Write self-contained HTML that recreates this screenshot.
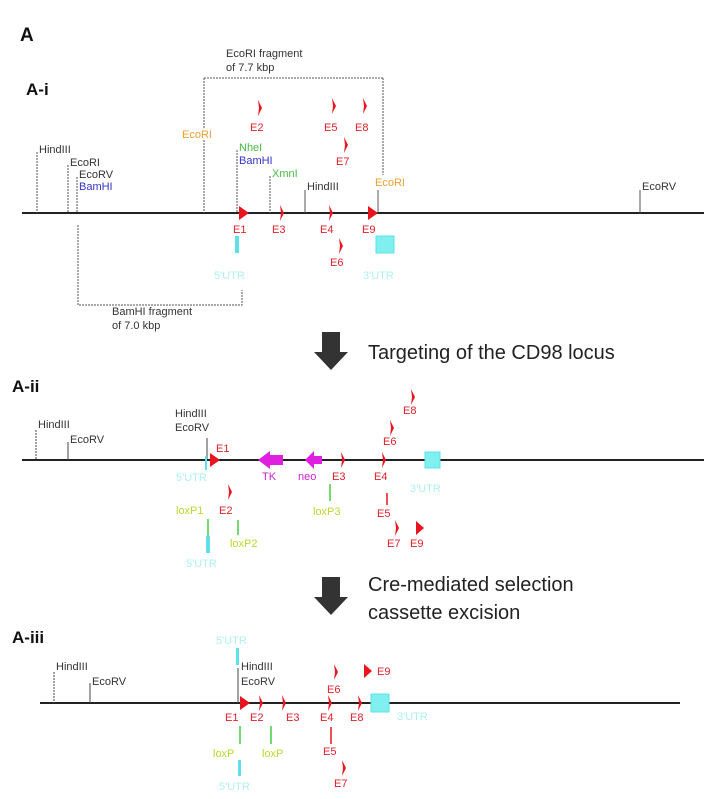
<!DOCTYPE html>
<html><head><meta charset="utf-8"><style>
html,body{margin:0;padding:0;background:#fff}
svg{display:block}
text{font-family:"Liberation Sans",Arial,sans-serif;font-size:11px}
.k{fill:#333}.r{fill:#e0202a}.o{fill:#e8a030}.g{fill:#44bb44}.b{fill:#3333cc}.c{fill:#aef0f0}.y{fill:#b8d830}.m{fill:#cc22cc}
.big{font-size:20px;fill:#222}
.hd{font-size:17px;font-weight:bold;fill:#111}
</style></head><body>
<svg width="704" height="799" viewBox="0 0 704 799" xmlns="http://www.w3.org/2000/svg">
<defs>
<g id="tri"><path d="M0,-7 L10,0 L0,7 Z" fill="#e8141e"/></g>
<g id="sm"><path d="M0,-8 L4,0 L0,8 L1,0 Z" fill="#e8141e"/></g>
</defs>
<text x="20" y="41" class="hd" style="font-size:19px">A</text>
<text x="26" y="95" class="hd">A-i</text>
<!-- A-i -->
<line x1="22" y1="213" x2="704" y2="213" stroke="#222" stroke-width="2"/>
<g stroke="#555" stroke-width="1">
<line x1="37" y1="152" x2="37" y2="213" stroke-dasharray="2,1"/>
<line x1="68" y1="165" x2="68" y2="213" stroke-dasharray="2,1"/>
<line x1="77" y1="177" x2="77" y2="213" stroke-dasharray="2,1"/>
<line x1="204" y1="140" x2="204" y2="213" stroke-dasharray="2,1"/>
<line x1="204" y1="78" x2="383" y2="78" stroke-dasharray="2,1"/>
<line x1="204" y1="78" x2="204" y2="128" stroke-dasharray="2,1"/>
<line x1="383" y1="78" x2="383" y2="175" stroke-dasharray="2,1"/>
<line x1="378" y1="190" x2="378" y2="213"/>
<line x1="237" y1="150" x2="237" y2="213" stroke-dasharray="2,1"/>
<line x1="270" y1="176" x2="270" y2="213" stroke-dasharray="2,1"/>
<line x1="305" y1="190" x2="305" y2="213"/>
<line x1="640" y1="190" x2="640" y2="213"/>
<path d="M640,190 L640,213" />
<path d="M78,225 L78,305 L242,305 L242,290" fill="none" stroke-dasharray="2,1"/>
</g>
<text x="39" y="153" class="k">HindIII</text>
<text x="70" y="166" class="k">EcoRI</text>
<text x="79" y="178" class="k">EcoRV</text>
<text x="79" y="190" class="b">BamHI</text>
<text x="182" y="138" class="o">EcoRI</text>
<text x="239" y="151" class="g">NheI</text>
<text x="239" y="164" class="b">BamHI</text>
<text x="272" y="177" class="g">XmnI</text>
<text x="307" y="190" class="k">HindIII</text>
<text x="375" y="186" class="o">EcoRI</text>
<text x="642" y="190" class="k">EcoRV</text>
<text x="226" y="57" class="k">EcoRI fragment</text>
<text x="226" y="71" class="k">of 7.7 kbp</text>
<text x="112" y="315" class="k">BamHI fragment</text>
<text x="112" y="329" class="k">of 7.0 kbp</text>
<use href="#tri" x="239" y="213"/><use href="#sm" x="280" y="213"/><use href="#sm" x="329" y="213"/><use href="#tri" x="368" y="213"/>
<text x="233" y="233" class="r">E1</text><text x="272" y="233" class="r">E3</text><text x="320" y="233" class="r">E4</text><text x="362" y="233" class="r">E9</text>
<use href="#sm" x="258" y="108"/><text x="250" y="131" class="r">E2</text>
<use href="#sm" x="332" y="106"/><text x="324" y="131" class="r">E5</text>
<use href="#sm" x="363" y="106"/><text x="355" y="131" class="r">E8</text>
<use href="#sm" x="344" y="145"/><text x="336" y="165" class="r">E7</text>
<use href="#sm" x="339" y="246"/><text x="330" y="266" class="r">E6</text>
<rect x="235" y="236" width="4" height="17" fill="#5ee0ea"/>
<rect x="376" y="236" width="18" height="17" fill="#7feff0" stroke="#5ee0ea"/>
<text x="214" y="279" class="c">5'UTR</text><text x="363" y="279" class="c">3'UTR</text>
<!-- arrow 1 -->
<path d="M322,332 L340,332 L340,352 L348,352 L331,370 L314,352 L322,352 Z" fill="#333"/>
<text x="368" y="359" class="big">Targeting of the CD98 locus</text>
<!-- A-ii -->
<text x="12" y="392" class="hd">A-ii</text>
<line x1="22" y1="460" x2="704" y2="460" stroke="#222" stroke-width="2"/>
<g stroke="#444" stroke-width="1">
<line x1="36" y1="430" x2="36" y2="460" stroke-dasharray="2,1"/>
<line x1="68" y1="442" x2="68" y2="460"/>
<line x1="207" y1="438" x2="207" y2="460"/>
</g>
<text x="38" y="428" class="k">HindIII</text><text x="70" y="443" class="k">EcoRV</text>
<text x="175" y="417" class="k">HindIII</text><text x="175" y="431" class="k">EcoRV</text>
<use href="#tri" x="210" y="460"/><text x="216" y="452" class="r">E1</text>
<rect x="205" y="456" width="2" height="14" fill="#5ee0ea"/>
<text x="176" y="481" class="c">5'UTR</text>
<path d="M283,455 L270,455 L270,451 L258,460 L270,469 L270,465 L283,465 Z" fill="#e020e0"/>
<path d="M322,456 L314,456 L314,451 L305,460 L314,469 L314,464 L322,464 Z" fill="#e020e0"/>
<text x="262" y="480" class="m">TK</text><text x="298" y="480" class="m">neo</text>
<use href="#sm" x="341" y="460"/><text x="332" y="480" class="r">E3</text>
<use href="#sm" x="382" y="460"/><text x="374" y="480" class="r">E4</text>
<rect x="425" y="452" width="15" height="16" fill="#7feff0" stroke="#5ee0ea"/>
<text x="410" y="492" class="c">3'UTR</text>
<use href="#sm" x="411" y="397"/><text x="403" y="414" class="r">E8</text>
<use href="#sm" x="390" y="428"/><text x="383" y="445" class="r">E6</text>
<line x1="387" y1="493" x2="387" y2="505" stroke="#e8141e" stroke-width="1.5"/><text x="377" y="517" class="r">E5</text>
<use href="#sm" x="395" y="528"/><text x="387" y="547" class="r">E7</text>
<path d="M416,521 L424,528 L416,535 Z" fill="#e8141e"/><text x="410" y="547" class="r">E9</text>
<use href="#sm" x="228" y="492"/><text x="219" y="514" class="r">E2</text>
<text x="176" y="514" class="y">loxP1</text>
<line x1="208" y1="519" x2="208" y2="536" stroke="#44cc44" stroke-width="1.5"/>
<rect x="206" y="536" width="4" height="17" fill="#5ee0ea"/>
<text x="186" y="567" class="c">5'UTR</text>
<line x1="238" y1="520" x2="238" y2="535" stroke="#44cc44" stroke-width="1.5"/>
<text x="230" y="547" class="y">loxP2</text>
<line x1="330" y1="484" x2="330" y2="501" stroke="#44cc44" stroke-width="1.5"/>
<text x="313" y="515" class="y">loxP3</text>
<!-- arrow 2 -->
<path d="M322,577 L340,577 L340,597 L348,597 L331,615 L314,597 L322,597 Z" fill="#333"/>
<text x="368" y="591" class="big">Cre-mediated selection</text>
<text x="368" y="619" class="big">cassette excision</text>
<!-- A-iii -->
<text x="12" y="643" class="hd">A-iii</text>
<line x1="40" y1="703" x2="680" y2="703" stroke="#222" stroke-width="2"/>
<g stroke="#444" stroke-width="1">
<line x1="54" y1="672" x2="54" y2="703" stroke-dasharray="2,1"/>
<line x1="90" y1="683" x2="90" y2="703"/>
<line x1="238" y1="668" x2="238" y2="703"/>
</g>
<text x="56" y="670" class="k">HindIII</text><text x="92" y="685" class="k">EcoRV</text>
<text x="241" y="670" class="k">HindIII</text><text x="241" y="685" class="k">EcoRV</text>
<text x="216" y="644" class="c">5'UTR</text>
<rect x="236" y="648" width="3" height="17" fill="#5ee0ea"/>
<use href="#tri" x="240" y="703"/><use href="#sm" x="259" y="703"/><use href="#sm" x="282" y="703"/><use href="#sm" x="328" y="703"/><use href="#sm" x="358" y="703"/>
<rect x="371" y="694" width="18" height="18" fill="#7feff0" stroke="#5ee0ea"/>
<text x="225" y="721" class="r">E1</text><text x="250" y="721" class="r">E2</text><text x="286" y="721" class="r">E3</text><text x="320" y="721" class="r">E4</text><text x="350" y="721" class="r">E8</text>
<text x="397" y="720" class="c">3'UTR</text>
<use href="#sm" x="334" y="672"/><text x="327" y="693" class="r">E6</text>
<path d="M364,664 L372,671 L364,678 Z" fill="#e8141e"/><text x="377" y="675" class="r">E9</text>
<line x1="240" y1="726" x2="240" y2="744" stroke="#44cc44" stroke-width="1.5"/>
<line x1="271" y1="726" x2="271" y2="744" stroke="#44cc44" stroke-width="1.5"/>
<text x="213" y="757" class="y">loxP</text><text x="262" y="757" class="y">loxP</text>
<rect x="238" y="760" width="3" height="16" fill="#5ee0ea"/>
<text x="219" y="790" class="c">5'UTR</text>
<line x1="331" y1="727" x2="331" y2="744" stroke="#e8141e" stroke-width="1.5"/><text x="323" y="755" class="r">E5</text>
<use href="#sm" x="342" y="768"/><text x="334" y="787" class="r">E7</text>
</svg>
</body></html>
